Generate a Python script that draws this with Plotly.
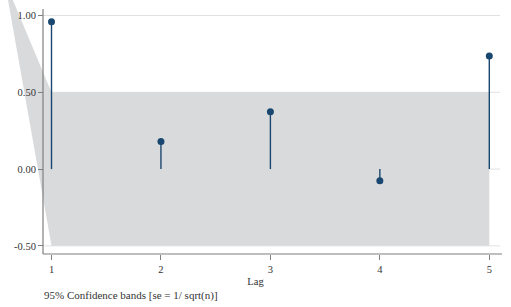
import plotly.graph_objects as go

# Data
lags = [1, 2, 3, 4, 5]
pac_values = [0.96, 0.18, 0.374, -0.076, 0.737]
band_lags = [0, 1, 2, 3, 4, 5]
band_upper = [2.2, 0.5, 0.5, 0.5, 0.5, 0.5]
band_lower = [3.53, -0.5, -0.5, -0.5, -0.5, -0.5]
ytick_vals = [-0.5, 0.0, 0.5, 1.0]
ytick_text = ["-0.50", "0.00", "0.50", "1.00"]
xtick_vals = [1, 2, 3, 4, 5]
note_text = "95% Confidence bands [se = 1/ sqrt(n)]"

W, H = 511, 307
FONT = "Liberation Serif"
NAVY = "#1a476f"
BAND = "#d9dadc"
AXIS = "#7f7f7f"
GRID = "#e1e1e1"
TEXT = "#333333"
PLOT_H = 254

fig = go.Figure()

# confidence band polygon
bx = band_lags + band_lags[::-1]
by = band_upper + band_lower[::-1]
fig.add_trace(go.Scatter(x=bx, y=by, mode="lines", fill="toself",
                         fillcolor=BAND, line=dict(width=0),
                         hoverinfo="skip", showlegend=False))

# stems
sx, sy = [], []
for l, v in zip(lags, pac_values):
    sx += [l, l, None]
    sy += [0, v, None]
fig.add_trace(go.Scatter(x=sx, y=sy, mode="lines",
                         line=dict(color=NAVY, width=1.4),
                         hoverinfo="skip", showlegend=False))
# markers
fig.add_trace(go.Scatter(x=lags, y=pac_values, mode="markers",
                         marker=dict(color=NAVY, size=7),
                         showlegend=False))

x0 = 0.5295
x1 = x0 + W / 109.45
ax_left = 43 / W
ax_right = 502 / W

shapes = []
for v in ytick_vals:
    shapes.append(dict(type="line", xref="paper", yref="y", x0=ax_left, x1=500 / W,
                       y0=v, y1=v, line=dict(color=GRID, width=1), layer="below"))
# axis lines
shapes.append(dict(type="line", xref="paper", yref="paper", x0=ax_left, x1=ax_right,
                   y0=0, y1=0, line=dict(color=AXIS, width=1.2), layer="above"))
shapes.append(dict(type="line", xref="paper", yref="paper", x0=ax_left, x1=ax_left,
                   y0=0, y1=(PLOT_H - 9) / PLOT_H, line=dict(color=AXIS, width=1.2), layer="above"))

fig.update_layout(
    width=W, height=H,
    margin=dict(l=0, r=0, t=0, b=H - PLOT_H, pad=0),
    paper_bgcolor="white", plot_bgcolor="white",
    font=dict(family=FONT, size=10.5, color=TEXT),
    showlegend=False,
    shapes=shapes,
    xaxis=dict(range=[x0, x1], domain=[0, 1], tickvals=xtick_vals,
               ticktext=[str(t) for t in xtick_vals],
               showgrid=False, zeroline=False, showline=False,
               ticks="outside", ticklen=5, tickcolor=AXIS, tickwidth=1,
               title=dict(text="Lag", font=dict(family=FONT, size=10.5, color=TEXT), standoff=4),
               automargin=False),
    yaxis=dict(range=[-0.553, 1.101], anchor="free", position=ax_left,
               tickvals=ytick_vals, ticktext=ytick_text,
               showgrid=False, zeroline=False, showline=False,
               ticks="outside", ticklen=5, tickcolor=AXIS, tickwidth=1,
               automargin=False),
    annotations=[dict(text=note_text, xref="paper", yref="paper",
                      x=42 / W, y=(PLOT_H - 295) / PLOT_H, xanchor="left", yanchor="middle",
                      showarrow=False, font=dict(family=FONT, size=11, color=TEXT))],
)

fig.write_html("out.html", config={"displayModeBar": False},
               post_script="document.body.style.margin='0';")
